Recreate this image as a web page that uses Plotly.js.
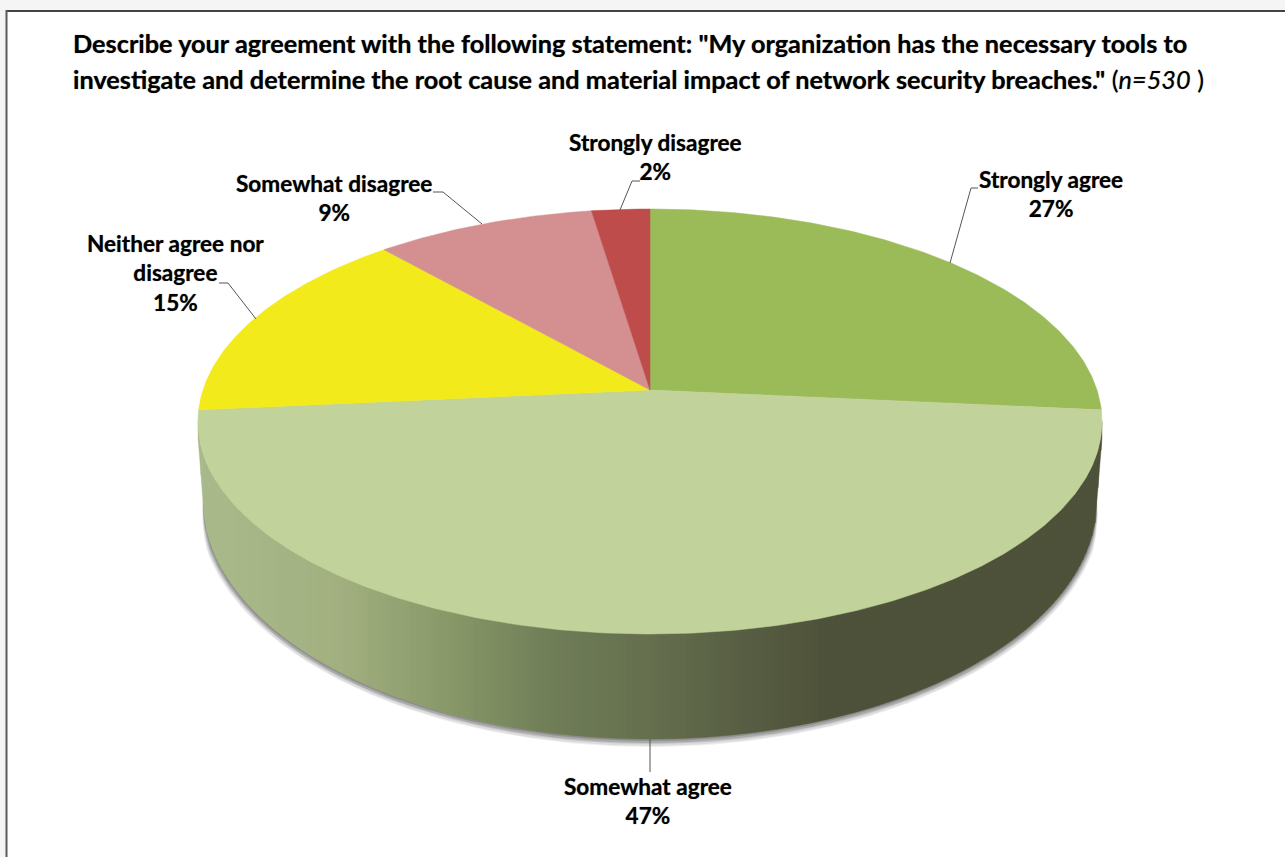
<!DOCTYPE html>
<html>
<head>
<meta charset="utf-8">
<script src="https://cdn.plot.ly/plotly-3.0.1.min.js"></script>
<style>html,body{margin:0;padding:0;background:#fff;overflow:hidden}</style>
</head>
<body>
<div id="chart" style="width:1285px;height:857px"></div>
<script>
// ---- data ----
const categories = ["Strongly agree", "Somewhat agree", "Neither agree nor<br>disagree", "Somewhat disagree", "Strongly disagree"];
const sliceValues = [26.5, 47, 15, 9.1, 2.4];
const percentLabels = ["27%", "47%", "15%", "9%", "2%"];
const sliceColors = ["#9BBA58", "#C1D39A", "#F2EA1A", "#D49090", "#BD4C4A"];

// ---- styling and geometry of the tilted pie ----
const FONT = "Lato, Carlito, Calibri, sans-serif";
const TEXT_SHADOW = "0 0 1px rgba(0,0,0,0.55)";
const apexX = 650, apexY = 390, topRimY = 209, bottomRimY = 634, halfWidth = 452;
const persp = (2 * apexY - topRimY - bottomRimY) / (topRimY - bottomRimY);
const depth = apexY - topRimY * (1 + persp);
const kx = halfWidth * Math.sqrt(1 - persp * persp);
function rim(turn) {
  const a = turn * 2 * Math.PI, u = Math.cos(a), w = 1 + persp * u;
  return [apexX + kx * Math.sin(a) / w, (apexY - depth * u) / w];
}
const rimCY = (topRimY + bottomRimY) / 2, rimRY = (bottomRimY - topRimY) / 2;
const baseCY = 500, baseRY = 239, baseRX = 447, wallTipY = 438;
const wallStops = [[198,[170,186,139]],[340,[162,176,128]],[450,[136,152,104]],[550,[112,126,88]],[650,[101,111,78]],[750,[87,93,66]],[830,[78,82,58]],[1103,[78,82,58]]];

function wallColor(x) {
  for (let i = 1; i < wallStops.length; i++) {
    if (x <= wallStops[i][0]) {
      const [x0, a] = wallStops[i - 1], [x1, b] = wallStops[i];
      const f = (x - x0) / (x1 - x0);
      return `rgb(${a.map((v, k) => Math.round(v + (b[k] - v) * f)).join(",")})`;
    }
  }
  return "rgb(78,82,58)";
}
function rimLow(x) {
  const d = Math.min(1, Math.abs(x - apexX) / halfWidth);
  return rimCY + rimRY * Math.sqrt(1 - d * d);
}
function wallTop(x) {
  const d = Math.abs(x - apexX) / halfWidth;
  return d < 0.96 ? rimLow(x) - 3 : rimLow(x);
}
function baseLow(x) {
  const d = Math.abs(x - apexX);
  if (d >= baseRX) {
    const f = Math.min(1, (d - baseRX) / (halfWidth - baseRX));
    return baseCY + (wallTipY - baseCY) * f;
  }
  return baseCY + baseRY * Math.sqrt(1 - (d / baseRX) * (d / baseRX));
}

const traces = [];
// soft shadow under the pie: grows from nothing at the sides of the base
[[5, 3, 0.08], [4, 3, 0.11], [3, 2, 0.15], [2, 2, 0.19], [1, 1, 0.24]].forEach(([grow, drop, alpha]) => {
  const xs = [], ys = [];
  for (let i = 0; i <= 160; i++) {
    const a = Math.PI * i / 160, taper = Math.min(1, Math.sin(a) * 5);
    xs.push(apexX + (baseRX + grow * taper) * Math.cos(a));
    ys.push(baseCY + drop * taper + (baseRY + grow * taper) * Math.sin(a));
  }
  traces.push({type: "scatter", mode: "lines", x: xs, y: ys, fill: "toself", fillcolor: `rgba(60,60,60,${alpha})`,
    line: {width: 0}, hoverinfo: "skip", showlegend: false});
});
// side wall: narrow strips so that the shading can run across it
const stripWidth = 3;
for (let x = apexX - halfWidth; x < apexX + halfWidth; x += stripWidth) {
  const x1 = Math.min(x + stripWidth, apexX + halfWidth), col = wallColor((x + x1) / 2);
  traces.push({type: "scatter", mode: "lines",
    x: [x, x1, x1, x, x], y: [wallTop(x), wallTop(x1), baseLow(x1), baseLow(x), wallTop(x)],
    fill: "toself", fillcolor: col, line: {color: col, width: 0.4}, hoverinfo: "skip", showlegend: false});
}
// top face
const total = sliceValues.reduce((s, v) => s + v, 0);
let cum = 0;
sliceValues.forEach((v, i) => {
  const from = cum / total, to = (cum + v) / total, n = Math.max(6, Math.round(v * 6));
  const xs = [apexX], ys = [apexY];
  for (let j = 0; j <= n; j++) {
    const p = rim(from + (to - from) * j / n);
    xs.push(p[0]); ys.push(p[1]);
  }
  xs.push(apexX); ys.push(apexY);
  traces.push({type: "scatter", mode: "lines", x: xs, y: ys, fill: "toself", fillcolor: sliceColors[i],
    line: {color: sliceColors[i], width: 0.5}, name: categories[i].replace("<br>", " "),
    text: percentLabels[i], hoverinfo: "name+text", showlegend: false});
  cum += v;
});
// leader lines
const leaderX = [[950, 971, 978], [650, 650], [256, 228, 219], [482, 443, 433], [620, 632, 640]];
const leaderY = [[263, 188, 188], [739, 772], [319, 283, 283], [224, 192, 192], [210, 181, 181]];
leaderX.forEach((lx, i) => traces.push({type: "scatter", mode: "lines", x: lx, y: leaderY[i],
  line: {color: "#555", width: 1}, hoverinfo: "skip", showlegend: false}));

// data labels
const labelX = [1051, 648, 175, 334, 655];
const labelY = [193.5, 800.5, 273, 197.5, 156.5];
const annotations = categories.map((name, i) => ({
  xref: "x", yref: "y", x: labelX[i], y: labelY[i], xanchor: "center", yanchor: "middle", showarrow: false,
  text: `<b>${name}<br>${percentLabels[i]}</b>`, align: "center",
  font: {family: FONT, size: 22.6, color: "#000", shadow: TEXT_SHADOW}
}));

const titleLine1 = 'Describe your agreement with the following statement: "My organization has the necessary tools to';
const titleLine2 = 'investigate and determine the root cause and material impact of network security breaches."';
const titleNote = ' (<i>n=530</i> )';

const layout = {
  width: 1285, height: 857, margin: {l: 0, r: 0, t: 0, b: 0, pad: 0},
  paper_bgcolor: "#fff", plot_bgcolor: "#fff", showlegend: false, hovermode: "closest",
  xaxis: {range: [0, 1285], visible: false, fixedrange: true},
  yaxis: {range: [857, 0], visible: false, fixedrange: true},
  title: {
    text: `<span style="font-size:25.3px"><b>${titleLine1}</b><br><b>${titleLine2}</b>${titleNote}</span>`,
    x: 73 / 1285, xref: "paper", xanchor: "left", y: 1 - 53 / 857, yref: "paper", yanchor: "middle", automargin: false,
    font: {family: FONT, size: 27.7, color: "#000", shadow: TEXT_SHADOW}
  },
  annotations,
  shapes: [
    {type: "rect", xref: "x", yref: "y", x0: 0, x1: 1285, y0: 0, y1: 10, fillcolor: "#F5F5F5", line: {width: 0}, layer: "below"},
    {type: "rect", xref: "x", yref: "y", x0: 0, x1: 6, y0: 0, y1: 857, fillcolor: "#F5F5F5", line: {width: 0}, layer: "below"},
    {type: "line", xref: "x", yref: "y", x0: 6, x1: 1285, y0: 11, y1: 11, line: {color: "#444", width: 2}},
    {type: "line", xref: "x", yref: "y", x0: 6.5, x1: 6.5, y0: 10, y1: 857, line: {color: "#5a5a5a", width: 2}}
  ]
};
Plotly.newPlot("chart", traces, layout, {displayModeBar: false, staticPlot: false, responsive: false});
</script>
</body>
</html>
